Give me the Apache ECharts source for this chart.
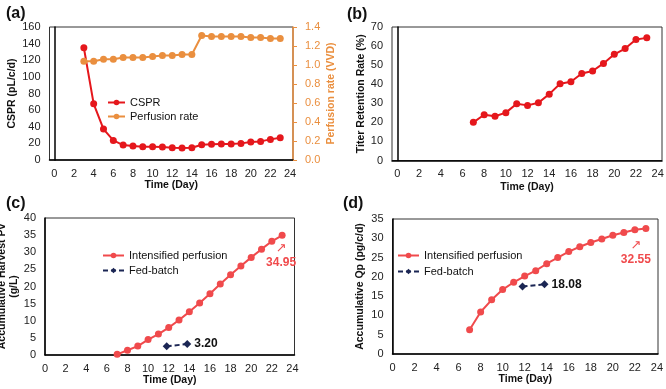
<!DOCTYPE html>
<html>
<head>
<meta charset="utf-8">
<script src="https://cdn.jsdelivr.net/npm/echarts@6/dist/echarts.min.js"></script>
<style>
  html, body { margin: 0; padding: 0; background: #fff; }
  #chart { width: 666px; height: 389px; }
</style>
</head>
<body>
<div id="chart"></div>
<script>
// x tick labels shared by all panels
const dayTicks = [0, 2, 4, 6, 8, 10, 12, 14, 16, 18, 20, 22, 24]

// (a) CSPR and perfusion rate
const daysA = [3, 4, 5, 6, 7, 8, 9, 10, 11, 12, 13, 14, 15, 16, 17, 18, 19, 20, 21, 22, 23]
const cspr = [135, 67.6, 37.2, 23.6, 18, 16.8, 16, 16, 15.6, 14.8, 14.4, 14.8, 18.4, 18.8, 19.2, 19.2, 20, 21.6, 22.4, 24.8, 26.8]
const perfusionRate = [1.04, 1.04, 1.06, 1.06, 1.08, 1.08, 1.08, 1.09, 1.10, 1.10, 1.11, 1.11, 1.31, 1.30, 1.30, 1.30, 1.30, 1.29, 1.29, 1.28, 1.28]

// (b), (c), (d) intensified perfusion, day 7..23
const daysB = [7, 8, 9, 10, 11, 12, 13, 14, 15, 16, 17, 18, 19, 20, 21, 22, 23]
const titerRetention = [20, 24, 23.2, 25.1, 29.8, 28.9, 30.3, 34.8, 40.2, 41.3, 45.6, 46.9, 50.9, 55.7, 58.7, 63.4, 64.3]
const harvestPv = [0.2, 1.4, 2.6, 4.5, 6.1, 8.0, 10.2, 12.6, 15.2, 17.9, 20.7, 23.4, 26.0, 28.5, 30.9, 33.2, 34.95]
const accQp = [6.3, 10.9, 14.05, 16.7, 18.6, 20.2, 21.6, 23.4, 25.0, 26.55, 27.8, 28.9, 29.8, 30.8, 31.5, 32.2, 32.55]

// fed-batch
const fedBatchDays = [11.8, 13.8]
const fedBatchPv = [2.55, 3.20]
const fedBatchQp = [17.5, 18.08]

const FONT = '"Liberation Sans", Arial, sans-serif'
const RED = '#E5171C'
const CORAL = '#F04A4C'
const ORANGE = '#EA8F3F'
const NAVY = '#1B2654'

const pairs = (xs, ys) => xs.map((x, i) => [x, ys[i]])

const chart = echarts.init(document.getElementById('chart'))

function xAxisFor (gridIndex, min, max, nameGap) {
  return {
    type: 'value',
    gridIndex: gridIndex,
    min: min,
    max: max,
    name: 'Time (Day)',
    nameLocation: 'middle',
    nameGap: nameGap,
    nameTextStyle: { fontFamily: FONT, fontSize: 10.5, fontWeight: 'bold', color: '#111' },
    axisLine: { onZero: false, lineStyle: { color: '#000', width: 1.5 } },
    axisTick: { show: false },
    splitLine: { show: false },
    axisLabel: { customValues: dayTicks, fontFamily: FONT, fontSize: 11, color: '#222', margin: 8 }
  }
}

function yAxisFor (gridIndex, max, interval, name, nameGap) {
  return {
    type: 'value',
    gridIndex: gridIndex,
    min: 0,
    max: max,
    interval: interval,
    name: name,
    nameLocation: 'middle',
    nameRotate: 90,
    nameGap: nameGap,
    nameTextStyle: { fontFamily: FONT, fontSize: 10.5, fontWeight: 'bold', color: '#111', lineHeight: 12 },
    axisLine: { show: true, lineStyle: { color: '#000', width: 1.5 } },
    axisTick: { show: false },
    splitLine: { show: false },
    axisLabel: { fontFamily: FONT, fontSize: 11, color: '#222', margin: 9 }
  }
}

const legendText = { fontFamily: FONT, fontSize: 11, color: '#111' }

const option = {
  animation: false,
  backgroundColor: '#fff',
  title: [
    { text: '(a)', left: 1, top: 1 },
    { text: '(b)', left: 342, top: 2 },
    { text: '(c)', left: 1, top: 191 },
    { text: '(d)', left: 338, top: 191 }
  ].map(t => Object.assign(t, { textStyle: { fontFamily: FONT, fontSize: 16, fontWeight: 'bold', color: '#111' } })),
  grid: [
    { left: 49.5, top: 27, width: 243.5, height: 133 },
    { left: 392, top: 27, width: 270, height: 133.5 },
    { left: 45, top: 218, width: 249.5, height: 137 },
    { left: 392.5, top: 219, width: 265.5, height: 135 }
  ].map(g => Object.assign(g, { show: true, borderColor: '#333', borderWidth: 1, containLabel: false, outerBoundsMode: 'none' })),
  legend: [
    {
      data: ['CSPR', 'Perfusion rate'],
      orient: 'vertical', left: 107, top: 97, padding: 0, itemGap: 3, itemWidth: 17, itemHeight: 7,
      textStyle: legendText
    },
    {
      data: ['Intensified perfusion', 'Fed-batch'],
      orient: 'vertical', left: 102, top: 250, padding: 0, itemGap: 4, itemWidth: 21, itemHeight: 7,
      textStyle: legendText
    },
    {
      data: ['Intensified perfusion (d)', 'Fed-batch (d)'],
      orient: 'vertical', left: 397, top: 250, padding: 0, itemGap: 5, itemWidth: 21, itemHeight: 7,
      formatter: n => n.replace(' (d)', ''),
      textStyle: legendText
    }
  ],
  xAxis: [
    xAxisFor(0, -0.5, 24.3, 20),
    xAxisFor(1, -0.5, 24.4, 21),
    xAxisFor(2, 0, 24.2, 20),
    xAxisFor(3, 0, 24.1, 19)
  ],
  yAxis: [
    yAxisFor(0, 160, 20, 'CSPR (pL/c/d)', 28),
    {
      type: 'value',
      gridIndex: 0,
      position: 'right',
      min: 0,
      max: 1.4,
      interval: 0.2,
      name: 'Perfusion rate (VVD)',
      nameLocation: 'middle',
      nameRotate: 90,
      nameGap: 33,
      nameTextStyle: { fontFamily: FONT, fontSize: 10.5, fontWeight: 'bold', color: ORANGE },
      axisLine: { show: true, lineStyle: { color: ORANGE, width: 1.5 } },
      axisTick: { show: true, inside: false, length: 4, lineStyle: { color: ORANGE } },
      splitLine: { show: false },
      axisLabel: { fontFamily: FONT, fontSize: 11, color: ORANGE, margin: 12, formatter: v => v.toFixed(1) }
    },
    yAxisFor(1, 70, 10, 'Titer Retention Rate (%)', 25),
    yAxisFor(2, 40, 5, 'Accumulative Harvest Pv\n(g/L)', 21),
    yAxisFor(3, 35, 5, 'Accumulative Qp (pg/c/d)', 26)
  ],
  series: [
    {
      name: 'CSPR', type: 'line', xAxisIndex: 0, yAxisIndex: 0,
      data: pairs(daysA, cspr),
      symbol: 'circle', symbolSize: 7, color: RED, lineStyle: { width: 2 }
    },
    {
      name: 'Perfusion rate', type: 'line', xAxisIndex: 0, yAxisIndex: 1,
      data: pairs(daysA, perfusionRate),
      symbol: 'circle', symbolSize: 7, color: ORANGE, lineStyle: { width: 2 }
    },
    {
      name: 'Titer Retention', type: 'line', xAxisIndex: 1, yAxisIndex: 2,
      data: pairs(daysB, titerRetention),
      symbol: 'circle', symbolSize: 7, color: RED, lineStyle: { width: 2 }
    },
    {
      name: 'Intensified perfusion', type: 'line', xAxisIndex: 2, yAxisIndex: 3,
      data: pairs(daysB, harvestPv),
      symbol: 'circle', symbolSize: 7, color: CORAL, lineStyle: { width: 2 },
      label: {
        show: true,
        position: 'bottom',
        distance: 2,
        offset: [-1, 0],
        formatter: p => p.dataIndex === harvestPv.length - 1 ? '{arr|↗}\n{num|' + p.value[1].toFixed(2) + '}' : '',
        rich: {
          arr: { fontFamily: 'DejaVu Sans', fontSize: 13, color: CORAL, align: 'center', lineHeight: 15 },
          num: { fontFamily: FONT, fontSize: 12, fontWeight: 'bold', color: CORAL, align: 'center', lineHeight: 14 }
        }
      }
    },
    {
      name: 'Fed-batch', type: 'line', xAxisIndex: 2, yAxisIndex: 3,
      data: pairs(fedBatchDays, fedBatchPv),
      symbol: 'diamond', symbolSize: 8, color: NAVY, lineStyle: { width: 2, type: [5, 3] },
      label: {
        show: true, position: 'right', distance: 3,
        formatter: p => p.dataIndex === fedBatchPv.length - 1 ? p.value[1].toFixed(2) : '',
        fontFamily: FONT, fontSize: 12, fontWeight: 'bold', color: '#111'
      }
    },
    {
      name: 'Intensified perfusion (d)', type: 'line', xAxisIndex: 3, yAxisIndex: 4,
      data: pairs(daysB, accQp),
      symbol: 'circle', symbolSize: 7, color: CORAL, lineStyle: { width: 2 },
      label: {
        show: true,
        position: 'bottom',
        distance: 6,
        offset: [-10, 0],
        formatter: p => p.dataIndex === accQp.length - 1 ? '{arr|↗}\n{num|' + p.value[1].toFixed(2) + '}' : '',
        rich: {
          arr: { fontFamily: 'DejaVu Sans', fontSize: 13, color: CORAL, align: 'center', lineHeight: 15 },
          num: { fontFamily: FONT, fontSize: 12, fontWeight: 'bold', color: CORAL, align: 'center', lineHeight: 14 }
        }
      }
    },
    {
      name: 'Fed-batch (d)', type: 'line', xAxisIndex: 3, yAxisIndex: 4,
      data: pairs(fedBatchDays, fedBatchQp),
      symbol: 'diamond', symbolSize: 8, color: NAVY, lineStyle: { width: 2, type: [5, 3] },
      label: {
        show: true, position: 'right', distance: 3,
        formatter: p => p.dataIndex === fedBatchQp.length - 1 ? p.value[1].toFixed(2) : '',
        fontFamily: FONT, fontSize: 12, fontWeight: 'bold', color: '#111'
      }
    }
  ]
}

chart.setOption(option)
</script>
</body>
</html>
